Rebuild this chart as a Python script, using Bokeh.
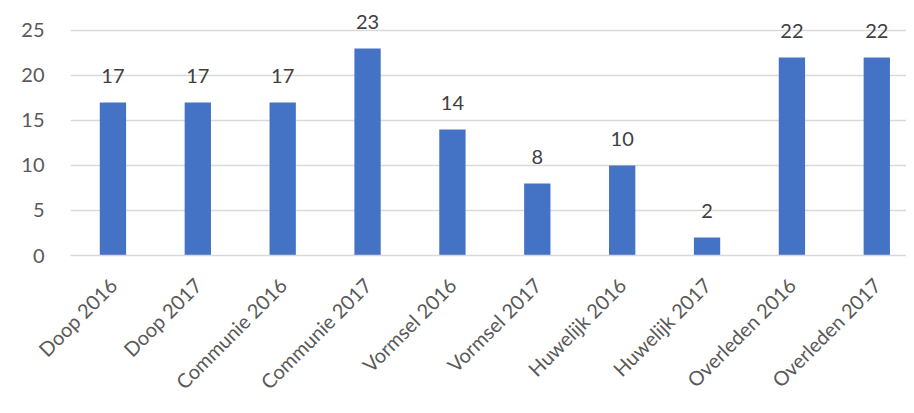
from math import pi
from bokeh.plotting import figure
from bokeh.models import Range1d, FixedTicker, ColumnDataSource
from bokeh.core.properties import value
from bokeh.embed import file_html
from bokeh.resources import INLINE

categories = ["Doop 2016", "Doop 2017", "Communie 2016", "Communie 2017",
              "Vormsel 2016", "Vormsel 2017", "Huwelijk 2016", "Huwelijk 2017",
              "Overleden 2016", "Overleden 2017"]
counts = [17, 17, 17, 23, 14, 8, 10, 2, 22, 22]
y_ticks = [0, 5, 10, 15, 20, 25]

FONT = "Lato"
xs = [i + 0.5 for i in range(len(categories))]
src = ColumnDataSource(dict(x=xs, top=counts, label=[str(c) for c in counts]))

p = figure(width=906, height=405, output_backend="svg", toolbar_location=None,
           x_range=Range1d(0, 9.85), y_range=Range1d(0, 27.1),
           min_border_left=70, min_border_right=0, min_border_top=11,
           min_border_bottom=150)
p.outline_line_color = None
p.background_fill_color = "white"
p.border_fill_color = "white"

p.vbar(x="x", top="top", width=0.31, bottom=0, source=src,
       fill_color="#4472C4", line_color=None)
p.text(x="x", y="top", text="label", source=src, y_offset=-26,
       text_align="center", text_baseline="alphabetic",
       text_font=value(FONT), text_font_size="20px", text_color="#404040")

# y axis
p.yaxis.ticker = FixedTicker(ticks=y_ticks)
p.yaxis.axis_line_color = None
p.yaxis.major_tick_line_color = None
p.yaxis.minor_tick_line_color = None
p.yaxis.major_label_standoff = 20
p.yaxis.major_label_text_font = FONT
p.yaxis.major_label_text_font_size = "20px"
p.yaxis.major_label_text_color = "#595959"

# x axis
p.xaxis.ticker = FixedTicker(ticks=xs)
p.xaxis.major_label_overrides = {x: c for x, c in zip(xs, categories)}
p.xaxis.axis_line_color = "#D9D9D9"
p.xaxis.axis_line_width = 1.5
p.xaxis.major_tick_line_color = None
p.xaxis.minor_tick_line_color = None
p.xaxis.major_label_orientation = pi / 4
p.xaxis.major_label_standoff = 20
p.xaxis.major_label_text_font = FONT
p.xaxis.major_label_text_font_size = "20px"
p.xaxis.major_label_text_color = "#595959"

p.xgrid.grid_line_color = None
p.ygrid.ticker = FixedTicker(ticks=y_ticks)
p.ygrid.grid_line_color = "#D9D9D9"
p.ygrid.grid_line_width = 1.5

open("out.html", "w").write(file_html(p, INLINE))
